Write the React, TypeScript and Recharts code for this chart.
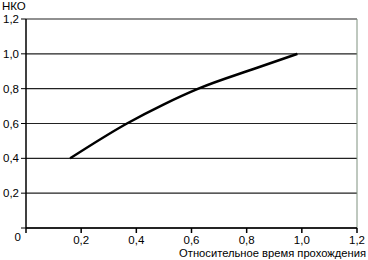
import { LineChart, Line, XAxis, YAxis, CartesianGrid, ReferenceLine } from 'recharts';

const timeValues = [0.16, 0.366, 0.5, 0.625, 0.825, 0.984];
const nkoValues = [0.4, 0.6, 0.71, 0.8, 0.913, 1.0];
const ticks = [0, 0.2, 0.4, 0.6, 0.8, 1.0, 1.2];

const data = timeValues.map((t, i) => ({ t, nko: nkoValues[i] }));

const FONT = '"Liberation Sans", Arial, sans-serif';

const fmt = (v: number) => (v === 0 ? '0' : v.toFixed(1).replace('.', ','));

const YTick = ({ x, y, payload }: any) => (
	<text
		x={x}
		y={y}
		dy={payload.value === 0 ? 13 : 4}
		dx={payload.value === 0 ? 2 : 0}
		textAnchor='end'
		fontSize={11.5}
		fontFamily={FONT}
		fill='#000'
	>
		{fmt(payload.value)}
	</text>
);

const XTick = ({ x, y, payload }: any) =>
	payload.value === 0 ? null : (
		<text x={x} y={y} dy={9} textAnchor='middle' fontSize={11.5} fontFamily={FONT} fill='#000'>
			{fmt(payload.value)}
		</text>
	);

export default function App() {
	return (
		<div style={{ position: 'absolute', left: 0, top: 0, background: '#fff' }}>
			<LineChart width={368} height={260} data={data} margin={{ top: 19, right: 11, left: 0, bottom: 0 }}>
				<CartesianGrid vertical={false} stroke='#222' strokeWidth={1.2} />
				<XAxis
					dataKey='t'
					type='number'
					domain={[0, 1.2]}
					ticks={ticks}
					height={32}
					tick={<XTick />}
					tickSize={5}
					axisLine={{ stroke: '#000', strokeWidth: 1.5 }}
					tickLine={{ stroke: '#000', strokeWidth: 1.5 }}
					label={() => (
						<text x={366} y={257} textAnchor='end' fontSize={11.2} fontFamily={FONT} fill='#000'>
							Относительное время прохождения
						</text>
					)}
				/>
				<YAxis
					type='number'
					domain={[0, 1.2]}
					ticks={ticks}
					width={26}
					tick={<YTick />}
					tickSize={5}
					axisLine={{ stroke: '#000', strokeWidth: 1.5 }}
					tickLine={{ stroke: '#000', strokeWidth: 1 }}
					label={() => (
						<text x={2} y={10} fontSize={11.5} fontFamily={FONT} fill='#000'>
							НКО
						</text>
					)}
				/>
				<ReferenceLine x={1.2} stroke='#7f917f' strokeWidth={1} />
				<Line
					dataKey='nko'
					type='monotone'
					stroke='#000'
					strokeWidth={2.5}
					dot={false}
					isAnimationActive={false}
				/>
			</LineChart>
		</div>
	);
}
